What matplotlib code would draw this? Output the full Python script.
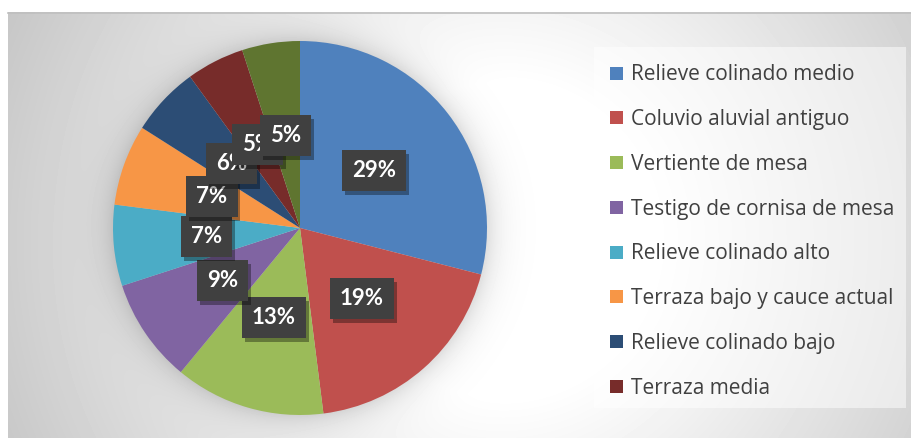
import numpy as np
import matplotlib
matplotlib.use("Agg")
import matplotlib.pyplot as plt
from matplotlib import patheffects as pe
from matplotlib.patches import Rectangle

# Data
categories = [
    "Relieve colinado medio",
    "Coluvio aluvial antiguo",
    "Vertiente de mesa",
    "Testigo de cornisa de mesa",
    "Relieve colinado alto",
    "Terraza bajo y cauce actual",
    "Relieve colinado bajo",
    "Terraza media",
    "Otros",  # ninth slice, not shown in the legend
]
shares = [29, 19, 13, 9, 7, 7, 6, 5, 5]
colors = ["#4F81BD", "#C0504D", "#9BBB59", "#8064A2", "#4BACC6",
          "#F79646", "#2C4D75", "#772C2A", "#5F7530"]
legend_count = 8

W, H = 911, 438
fig = plt.figure(figsize=(W / 100, H / 100), dpi=100)
fig.patch.set_facecolor("white")

# background: radial grey gradient with a soft glow around the pie
bg = fig.add_axes([0, 0, 1, 1])
bg.set_xlim(0, W)
bg.set_ylim(H, 0)
bg.axis("off")
x0, y0 = 8, 12
pcx, pcy, pr = 300, 228, 187
xx, yy = np.meshgrid(np.arange(x0, W) + 0.5, np.arange(y0, H) + 0.5)
t = np.sqrt(((xx - 500) / 450) ** 2 + ((yy - 240) / 450) ** 2)
grey = 1 - 0.22 * np.clip((t - 0.35) / 0.85, 0, 1)
d = np.sqrt((xx - pcx) ** 2 + (yy - pcy) ** 2) - pr
grey = grey * (1 - 0.13 * np.exp(-np.clip(d, 0, None) / 14))
bg.imshow(grey, cmap="gray", vmin=0, vmax=1, extent=[x0, W, H, y0],
          interpolation="bilinear", aspect="auto")
bg.plot([x0, W], [y0 + 0.5, y0 + 0.5], color="#bfbfbf", lw=1.2)
bg.add_patch(Rectangle((594, 47), 312, 361, facecolor="white", alpha=0.5,
                       edgecolor="none"))

# pie
ax = fig.add_axes([(pcx - pr) / W, (H - pcy - pr) / H, 2 * pr / W, 2 * pr / H])
wedges, texts, autotexts = ax.pie(
    shares, colors=colors, startangle=90, counterclock=False,
    autopct="%1.0f%%", pctdistance=0.5, wedgeprops=dict(linewidth=0))
ax.set_xlim(-1, 1)
ax.set_ylim(-1, 1)

for at in autotexts:
    at.set_color("white")
    at.set_fontweight("bold")
    at.set_fontsize(16)
    at.set_family("Lato")
    at.set_bbox(dict(boxstyle="square,pad=0.45", facecolor="#404040",
                     edgecolor="none"))
    at.get_bbox_patch().set_path_effects([
        pe.SimplePatchShadow(offset=(2, -3), shadow_rgbFace="black", alpha=0.35),
        pe.Normal()])

# legend (first eight entries only, like the original)
leg = fig.legend(wedges[:legend_count], categories[:legend_count],
                 loc="upper left", bbox_to_anchor=(600 / W, 1 - 54 / H),
                 frameon=False, borderpad=0,
                 prop=dict(family="Open Sans", size=15),
                 handlelength=0.58, handleheight=0.58, handletextpad=0.42,
                 labelspacing=1.14)
for txt in leg.get_texts():
    txt.set_color("#404040")

fig.savefig("out.png", dpi=100)
